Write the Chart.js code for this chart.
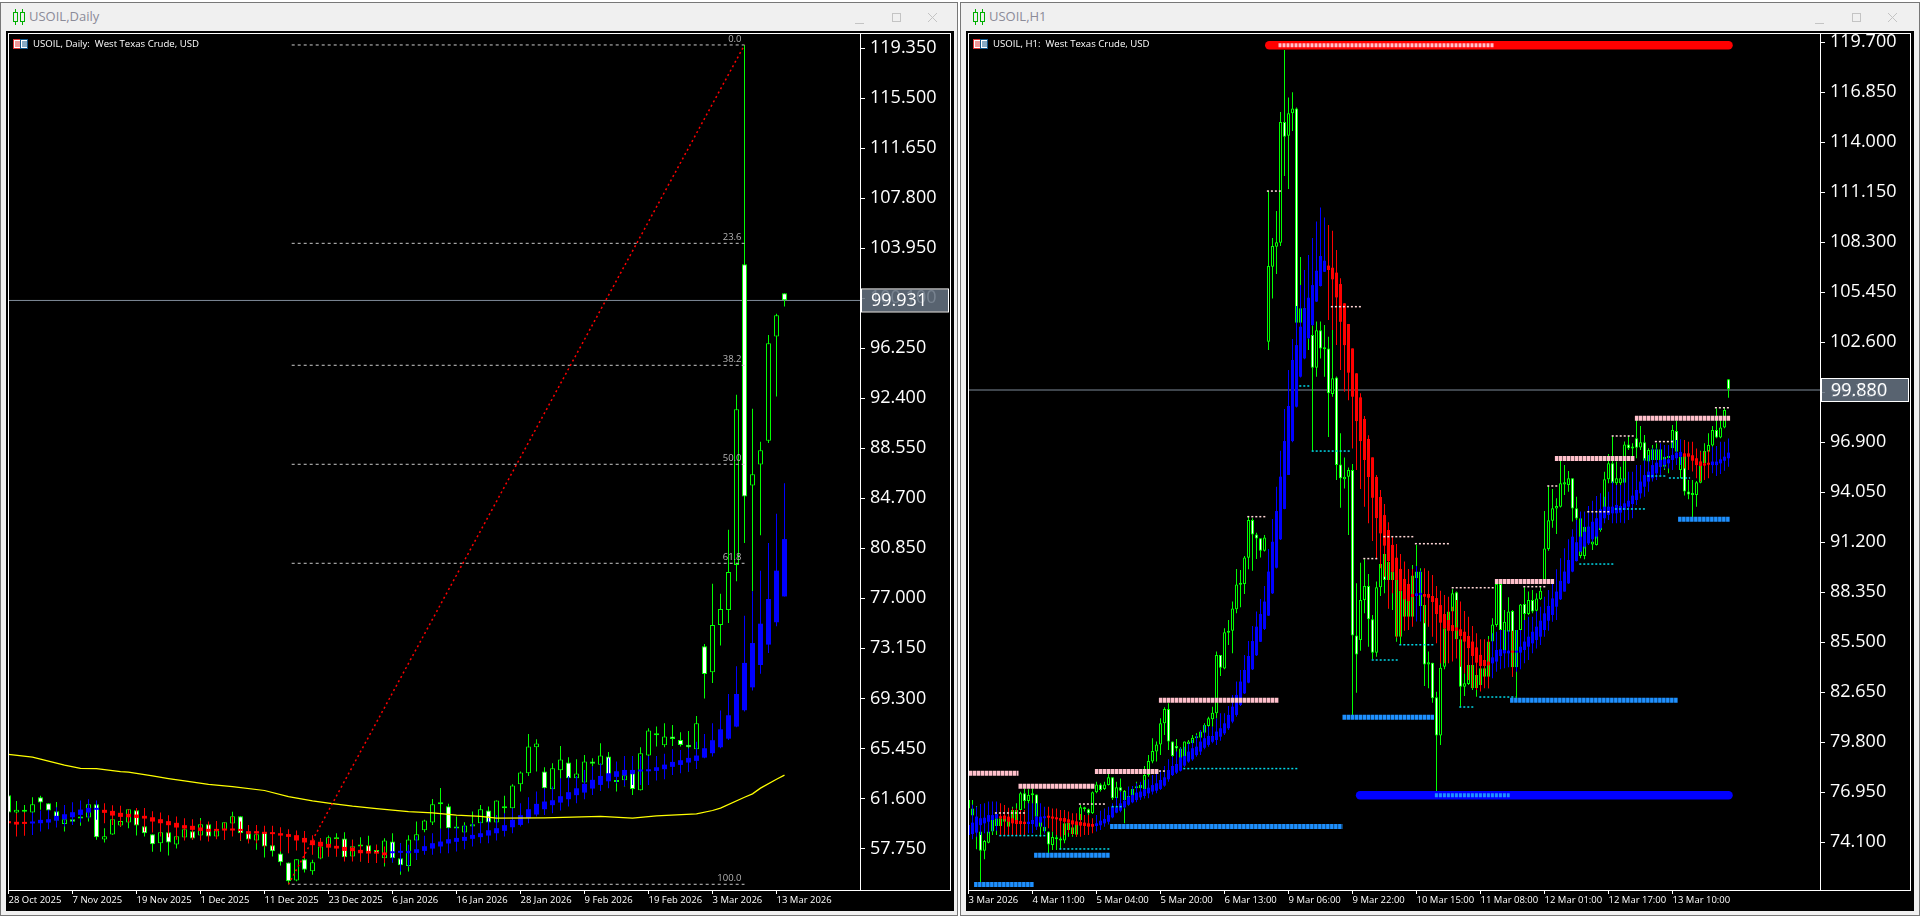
<!DOCTYPE html>
<html>
<head>
<meta charset="utf-8">
<title>USOIL</title>
<script src="https://cdn.jsdelivr.net/npm/chart.js@4"></script>
<style>
html, body { margin: 0; padding: 0; background: #fff; width: 1920px; height: 917px; overflow: hidden; }
.win { position: absolute; top: 2px; height: 914px; background: #f0f0f0; box-shadow: inset 0 0 0 1px #777; }
.pane { position: absolute; left: 6px; top: 29px; width: 948px; height: 880px; background: #000; }
.pane canvas { position: absolute; left: 0; top: 0; }
.frame { position: absolute; left: 2px; top: 2px; width: 943px; height: 858px; box-sizing: border-box; border: 1px solid #fff; pointer-events: none; }
.title { position: absolute; left: 29px; top: 5px; font: 13px "Open Sans", sans-serif; color: #8b8b98; }
.icon { position: absolute; left: 12px; top: 7px; }
.btns { position: absolute; top: 9px; left: 855px; }
.sym { position: absolute; left: 7px; top: 8px; width: 15px; height: 10px; }
.head { position: absolute; left: 27px; top: 6px; font: 9.6px "Open Sans", sans-serif; color: #fff; white-space: pre; }
</style>
</head>
<body>
<div class="win" style="left:0;width:958px">
  <svg class="icon" width="14" height="16"><path d="M3.5 0v3M3.5 13v3M10.5 0v3M10.5 13v3" stroke="#00b000"/><rect x="1.5" y="3.5" width="4" height="9" fill="none" stroke="#00b000"/><rect x="8.5" y="3.5" width="4" height="9" fill="none" stroke="#00b000"/></svg>
  <div class="title">USOIL,Daily</div>
  <svg class="btns" width="90" height="14"><path d="M0 12.5h9" stroke="#c4c4c4"/><rect x="37.5" y="2.5" width="8" height="8" fill="none" stroke="#c4c4c4"/><path d="M73 2l9 9M82 2l-9 9" stroke="#c4c4c4"/></svg>
  <div class="pane"><canvas id="dailyChart" width="948" height="880"></canvas><div class="frame"></div>
    <svg class="sym"><rect x=".5" y=".5" width="7" height="9" fill="#fff" stroke="#d33"/><rect x="7.5" y=".5" width="7" height="9" fill="#fff" stroke="#158"/><path d="M2 3h5M2 5h5M2 7h5" stroke="#d33"/><path d="M9 3h5M9 5h5M9 7h5" stroke="#158"/></svg>
    <div class="head">USOIL, Daily:  West Texas Crude, USD</div>
  </div>
</div>
<div class="win" style="left:960px;width:960px">
  <svg class="icon" width="14" height="16"><path d="M3.5 0v3M3.5 13v3M10.5 0v3M10.5 13v3" stroke="#00b000"/><rect x="1.5" y="3.5" width="4" height="9" fill="none" stroke="#00b000"/><rect x="8.5" y="3.5" width="4" height="9" fill="none" stroke="#00b000"/></svg>
  <div class="title">USOIL,H1</div>
  <svg class="btns" width="90" height="14"><path d="M0 12.5h9" stroke="#c4c4c4"/><rect x="37.5" y="2.5" width="8" height="8" fill="none" stroke="#c4c4c4"/><path d="M73 2l9 9M82 2l-9 9" stroke="#c4c4c4"/></svg>
  <div class="pane"><canvas id="hourlyChart" width="948" height="880"></canvas><div class="frame"></div>
    <svg class="sym"><rect x=".5" y=".5" width="7" height="9" fill="#fff" stroke="#d33"/><rect x="7.5" y=".5" width="7" height="9" fill="#fff" stroke="#158"/><path d="M2 3h5M2 5h5M2 7h5" stroke="#d33"/><path d="M9 3h5M9 5h5M9 7h5" stroke="#158"/></svg>
    <div class="head">USOIL, H1:  West Texas Crude, USD</div>
  </div>
</div>
<script>
// daily candles
var dailyOpen = [61.85,60.52,60.57,60.52,61.69,61.23,60.62,59.64,60.0,60.05,
  60.13,61.16,58.44,58.82,59.51,59.74,60.69,59.46,58.85,58.15,
  59.0,58.05,58.59,59.08,58.74,59.62,58.67,59.15,59.67,60.23,
  58.92,58.36,59.0,58.0,57.36,56.67,55.28,56.92,56.0,56.97,
  57.82,58.46,58.51,57.13,57.9,58.0,57.62,57.0,58.28,57.0,
  56.39,58.36,59.15,59.74,61.16,61.0,59.28,58.97,59.44,59.69,
  60.67,59.74,60.85,60.85,62.69,63.54,65.54,63.67,62.31,63.77,
  64.36,63.15,62.82,64.44,64.2,64.82,63.0,63.0,63.54,62.23,
  64.9,66.46,65.69,66.36,66.1,65.74,65.38,73.31,71.31,74.95,
  76.1,79.57,102.72,85.69,87.31,89.13,97.15,100.49];
var dailyHigh = [61.85,61.41,61.10,61.69,61.80,61.23,61.33,60.41,60.21,60.59,
  61.16,61.16,59.31,60.0,60.33,60.77,60.77,59.56,58.85,59.0,
  59.0,59.31,59.56,59.31,60.10,59.62,59.31,59.77,60.57,60.23,
  59.05,59.05,59.0,58.15,57.85,56.67,56.92,57.44,56.87,58.54,
  58.74,58.92,59.0,58.41,58.62,58.72,58.03,58.54,58.92,58.15,
  58.77,59.82,59.95,61.56,62.41,61.18,60.21,59.77,60.59,61.1,
  60.98,61.44,61.80,62.69,63.67,66.56,66.15,64.0,64.31,65.64,
  64.77,64.62,64.95,64.69,65.85,65.18,63.23,63.79,63.79,65.54,
  67.0,67.13,67.39,67.26,66.69,66.79,67.95,73.49,78.13,77.36,
  82.28,92.67,119.6,91.59,89.05,97.28,98.9,100.49];
var dailyLow = [60.46,59.69,59.69,59.69,60.72,60.59,59.44,59.05,59.69,59.49,
  59.82,58.41,58.21,58.80,59.39,59.31,58.74,58.67,57.49,57.49,
  57.21,57.74,58.41,58.41,58.54,58.54,58.54,58.41,59.18,58.33,
  58.15,57.64,57.05,57.13,56.44,54.97,55.23,55.90,55.72,56.92,
  57.13,57.13,56.82,57.0,56.74,56.74,56.62,56.36,56.67,55.72,
  55.97,56.87,59.0,59.56,59.26,59.23,59.0,58.41,58.92,59.56,
  59.69,59.69,59.82,60.08,62.13,63.33,63.67,62.26,62.13,62.9,
  63.08,62.9,62.77,64.05,64.0,62.9,62.13,62.51,61.87,62.21,
  64.82,65.59,65.54,65.64,65.59,63.67,65.33,69.3,70.49,73.38,
  75.1,78.31,81.26,77.54,81.85,88.95,92.54,99.46];
var dailyClose = [60.52,60.72,60.72,61.16,61.28,60.67,59.9,60.0,59.8,60.21,
  61.16,58.62,58.69,60.0,59.87,60.77,59.51,58.92,58.08,59.0,
  58.21,58.69,59.23,58.51,59.62,58.67,59.13,59.77,60.23,58.92,
  58.44,58.85,57.9,57.54,56.69,55.23,56.92,56.10,56.69,57.9,
  58.62,58.56,57.08,57.92,58.05,57.44,57.36,58.36,57.0,56.46,
  58.44,58.85,59.9,61.16,61.21,59.31,59.33,59.51,59.62,60.77,
  59.74,61.44,60.92,62.59,63.59,65.59,65.82,62.38,63.92,64.59,
  63.15,63.51,64.44,64.26,64.9,62.97,62.87,63.38,62.33,65.08,
  66.82,66.54,66.36,66.18,65.72,65.54,67.39,71.18,74.95,76.18,
  79.03,91.56,84.85,86.56,88.41,96.64,98.8,99.95];

// daily smoothed candles (blue up, red down)
var dailySmoothOpen = [59.85,59.8,59.69,59.67,59.69,59.74,59.9,60.0,60.15,60.33,
  60.51,60.72,60.72,60.64,60.49,60.41,60.36,60.26,60.15,60.0,
  59.85,59.72,59.54,59.49,59.36,59.26,59.15,59.21,59.18,59.18,
  59.08,59.08,59.03,59.0,58.92,58.85,58.77,58.56,58.38,58.26,
  58.1,57.95,57.87,57.82,57.64,57.56,57.51,57.44,57.38,57.41,
  57.38,57.41,57.56,57.74,57.9,58.13,58.26,58.33,58.49,58.62,
  58.74,58.92,59.1,59.38,59.56,60.08,60.36,60.77,61.08,61.28,
  61.54,61.85,62.05,62.36,62.64,62.92,63.26,63.38,63.49,63.67,
  63.69,63.72,63.85,64.03,64.18,64.36,64.49,64.74,65.08,65.54,
  66.2,67.13,68.39,70.15,71.87,73.44,75.16,77.15];
var dailySmoothHigh = [60.46,60.46,60.51,60.51,60.67,60.72,60.92,61.1,61.31,61.44,
  61.54,61.44,61.23,61.08,61.03,60.77,60.87,60.87,60.62,60.51,
  60.31,60.21,60.08,60.0,59.9,59.82,59.87,59.74,60.21,59.82,
  59.56,59.56,59.49,59.49,59.38,59.23,59.13,59.1,58.77,58.54,
  58.54,58.54,58.41,58.41,58.03,58.03,58.03,57.9,58.15,58.15,
  58.03,58.67,58.72,58.92,59.26,59.31,59.44,59.56,59.69,59.82,
  60.21,60.33,60.46,60.85,61.23,61.69,62.13,62.38,62.51,63.15,
  63.33,63.33,63.79,64.05,64.31,64.69,64.44,64.87,64.87,64.87,
  64.87,64.87,65.03,65.38,65.33,65.46,65.97,66.56,67.39,68.36,
  69.64,71.77,75.67,77.54,79.13,81.26,83.51,85.87];
var dailySmoothLow = [59.05,58.67,58.72,58.79,59.05,59.23,59.36,59.44,59.56,59.74,
  60.08,59.95,59.69,59.56,59.44,59.74,59.56,59.05,58.97,58.67,
  58.62,58.41,58.36,58.41,58.36,58.28,58.46,58.41,58.67,58.36,
  58.15,58.15,57.85,57.64,57.51,57.38,57.59,57.0,57.26,57.0,
  57.13,57.13,56.74,56.74,56.74,56.62,56.62,56.62,56.67,55.97,
  56.36,56.87,57.26,57.26,57.38,57.38,57.51,57.69,57.9,58.15,
  58.15,58.36,58.67,58.92,59.44,59.69,60.21,60.33,60.46,60.67,
  60.98,61.23,61.54,61.87,62.18,62.38,62.77,62.56,62.64,62.64,
  62.64,62.97,63.08,63.41,63.54,63.67,63.87,64.69,64.82,65.46,
  66.1,67.08,68.3,69.9,71.2,72.8,74.85,77.15];
var dailySmoothClose = [59.69,59.59,59.64,59.72,59.95,60.0,60.26,60.38,60.54,60.74,
  60.87,60.77,60.49,60.28,60.18,60.15,60.1,60.05,59.82,59.69,
  59.54,59.36,59.28,59.18,59.1,59.03,59.1,59.13,59.13,59.1,
  58.87,58.9,58.87,58.85,58.74,58.64,58.36,58.21,58.0,57.9,
  57.82,57.74,57.56,57.54,57.38,57.36,57.36,57.23,57.44,57.46,
  57.56,57.69,57.92,58.15,58.28,58.46,58.56,58.64,58.79,58.92,
  59.15,59.31,59.54,59.95,60.31,60.77,61.18,61.36,61.46,61.77,
  62.08,62.38,62.72,63.03,63.33,63.54,63.69,63.79,63.79,63.74,
  63.79,64.0,64.2,64.41,64.54,64.72,64.9,65.46,66.08,66.92,
  68.0,69.64,72.03,73.56,75.05,76.95,79.13,81.56];

// yellow moving average, read at these bars
var dailyMaBars = [0,3,4,7,9,11,14,15,18,20,22,25,28,32,35,38,40,43,46,50,53,56,59,61,67,74,78,81,86,88,89,92,93,94,96,97];
var dailyMaValues = [64.99,64.77,64.62,64.16,63.92,63.90,63.67,63.62,63.33,63.13,62.95,62.69,62.51,62.21,61.74,61.41,61.23,61.0,60.82,60.59,60.49,60.31,60.21,60.08,60.10,60.21,60.08,60.26,60.41,60.67,60.85,61.69,61.95,62.39,63.08,63.39];

// fibonacci tool
var fibLabels = ['0.0','23.6','38.2','50.0','61.8','100.0'];
var fibPrices = [119.6,104.33,94.94,87.32,79.70,54.99];
var fibStartBar = 35.4;
var fibEndBar = 92;

var dailyTickBars = [0,8,16,24,32,40,48,56,64,72,80,88,96];
var dailyTickLabels = ['28 Oct 2025','7 Nov 2025','19 Nov 2025','1 Dec 2025','11 Dec 2025','23 Dec 2025','6 Jan 2026','16 Jan 2026','28 Jan 2026','9 Feb 2026','19 Feb 2026','3 Mar 2026','13 Mar 2026'];
var dailyPriceTicks = [119.35,115.5,111.65,107.8,103.95,100.1,96.25,92.4,88.55,84.7,80.85,77,73.15,69.3,65.45,61.6,57.75];
var dailyLast = 99.931;

// hourly candles
var hourlyOpen = [76.03,76.03,74.71,74.71,73.62,74.08,74.71,75.03,75.47,75.27,
  74.99,75.94,75.27,75.94,76.89,76.45,76.78,76.83,74.99,74.99,
  74.71,73.94,74.38,74.2,74.2,75.22,74.57,74.53,75.35,75.98,
  75.98,75.75,76.95,77.4,77.14,77.36,77.8,76.61,77.23,77.04,
  76.61,76.74,77.18,77.18,77.14,77.94,78.7,79.27,79.68,80.88,
  81.7,79.84,79.59,78.75,78.98,79.7,79.74,80.03,80.06,80.35,
  80.73,81.11,81.45,84.78,84.0,86.05,86.16,87.38,88.78,88.82,
  90.32,92.47,91.65,91.43,90.72,102.63,106.91,108.05,108.28,115.16,
  114.38,115.65,115.93,103.72,102.06,102.88,103.01,101.15,103.28,102.2,
  102.25,99.65,100.6,95.64,94.79,94.94,95.32,85.88,85.63,87.91,
  88.71,86.81,84.91,88.63,90.53,89.05,89.05,89.05,85.82,86.96,
  86.96,86.96,89.15,87.57,87.62,84.24,84.34,82.36,80.18,84.11,
  86.3,87.25,88.35,85.67,82.97,83.12,84.2,82.88,83.07,83.54,
  83.54,85.54,86.48,88.82,85.06,86.1,87.28,84.07,86.2,87.68,
  87.11,87.91,87.3,87.95,89.05,90.82,92.43,93.12,93.23,94.5,
  94.46,94.85,93.14,90.42,90.42,91.33,91.08,91.05,91.9,92.85,
  94.79,95.7,94.56,94.56,94.6,96.78,96.54,97.13,96.61,96.9,
  95.8,95.89,95.89,96.5,95.51,96.0,96.56,97.54,95.32,96.18,
  94.1,93.9,93.9,94.6,95.7,96.36,96.71,97.6,97.18,97.75,
  100.49];
var hourlyHigh = [77.08,76.51,76.17,74.76,74.23,76.13,76.03,75.85,75.75,76.03,
  76.03,76.13,76.32,76.98,77.18,77.12,77.18,76.83,75.56,75.27,
  74.71,74.71,74.8,74.57,75.37,75.37,75.27,75.37,76.22,76.13,
  76.03,76.99,77.55,77.46,77.55,78.03,77.8,77.55,77.74,77.08,
  77.27,77.27,77.55,77.46,78.45,79.08,80.03,79.84,81.17,81.79,
  82.02,79.84,79.99,79.51,79.84,79.93,80.22,80.31,80.5,80.88,
  81.26,81.83,84.97,84.78,86.3,86.77,87.82,89.68,89.62,90.42,
  92.66,92.57,91.75,91.43,91.62,111.24,108.54,110.08,115.73,119.26,
  116.56,116.85,115.99,107.46,105.01,104.25,103.78,103.78,103.78,103.58,
  102.92,103.3,100.65,97.41,96.04,95.47,95.66,88.86,90.04,90.23,
  89.39,87.06,88.96,90.29,90.85,90.09,89.9,89.05,89.53,89.3,
  89.15,89.9,91.05,89.72,87.62,84.97,84.34,82.68,84.68,86.39,
  87.4,88.52,88.39,85.67,83.73,84.2,84.2,83.63,84.02,84.11,
  85.86,86.87,88.96,88.86,87.34,88.06,87.34,86.2,87.68,88.63,
  88.39,88.48,88.29,88.63,92.98,94.41,94.24,93.71,95.85,95.6,
  95.26,94.85,93.8,92.57,92.13,92.28,92.76,92.76,93.04,95.22,
  96.23,97.26,95.8,95.51,96.94,97.26,96.84,98.17,97.83,97.31,
  96.56,96.74,96.84,96.56,96.46,96.46,97.89,98.13,96.36,96.18,
  94.75,94.75,94.69,96.42,96.84,97.41,97.83,98.83,98.17,98.87,
  100.49];
var hourlyLow = [75.56,74.99,73.70,71.70,73.13,74.04,74.52,74.52,74.46,74.52,
  74.52,74.99,75.08,75.85,76.03,76.13,75.56,74.9,74.42,74.61,
  73.47,73.66,73.66,73.7,74.04,74.42,74.42,74.42,75.27,75.85,
  75.56,75.71,76.89,76.99,77.08,77.33,76.51,76.17,76.03,75.18,
  76.19,76.51,76.85,76.7,77.08,77.84,78.6,78.7,79.07,80.22,
  79.36,78.89,78.98,78.32,78.41,78.98,79.27,79.55,79.74,79.74,
  80.22,80.69,81.16,83.58,83.96,85.34,84.87,87.15,87.49,88.25,
  89.66,89.58,90.25,90.34,90.67,102.16,105.09,106.49,108.09,112.08,
  111.34,114.64,103.68,102.16,101.78,102.16,96.4,100.64,101.68,100.64,
  97.2,99.5,94.75,93.17,94.27,91.62,81.3,82.63,85.02,87.15,
  85.25,84.53,84.68,88.14,88.3,87.43,87.34,85.53,85.35,86.7,
  86.5,86.77,88.57,87.53,83.01,82.88,82.06,76.9,79.65,83.96,
  86.2,87.15,85.63,81.83,82.44,83.06,82.78,82.4,82.97,83.45,
  82.88,85.44,86.39,85.06,84.97,86.0,83.54,82.3,86.1,86.77,
  87.06,87.15,87.25,87.91,89.05,90.72,92.03,91.67,93.19,93.89,
  94.08,92.38,92.38,90.29,90.23,91.14,90.76,91.01,91.8,92.57,
  94.56,94.37,94.37,94.37,94.46,96.46,95.99,95.99,96.46,95.8,
  95.7,95.23,95.7,95.41,95.32,95.13,96.46,95.6,94.85,93.86,
  93.65,92.6,93.23,94.56,95.6,96.27,96.65,97.13,97.13,97.7,
  99.44];
var hourlyClose = [76.51,75.62,75.56,73.62,74.17,74.71,75.41,75.47,75.03,75.56,
  75.56,75.27,75.94,76.89,76.45,76.8,76.85,75.56,75.27,74.71,
  73.98,74.4,74.27,74.27,75.18,74.8,74.95,75.27,76.09,76.02,
  75.75,76.95,77.4,77.08,77.4,77.8,76.61,77.23,77.04,76.51,
  76.74,77.14,77.27,77.36,77.94,78.73,79.3,79.68,80.88,81.7,
  79.84,79.02,79.44,79.44,79.84,79.84,80.06,80.1,80.41,80.79,
  81.17,81.49,84.78,84.05,86.07,86.14,87.43,88.8,88.86,90.34,
  92.47,91.65,91.41,90.72,91.48,106.95,108.09,108.3,115.16,114.32,
  115.65,115.93,103.72,104.54,104.54,103.11,101.15,103.28,102.25,102.29,
  99.69,100.55,95.6,94.85,94.94,95.32,85.88,84.81,87.91,88.71,
  86.81,84.91,88.63,89.96,89.05,90.09,89.53,85.82,88.44,88.48,
  88.82,89.3,89.53,89.53,84.24,84.36,82.31,80.18,84.05,86.3,
  87.25,88.29,85.67,82.97,83.16,84.2,82.88,83.63,84.02,84.02,
  85.54,86.52,88.82,86.2,86.67,87.25,84.07,86.2,87.66,87.11,
  87.91,87.25,88.0,88.44,90.85,92.45,93.14,93.27,94.56,94.62,
  94.85,93.12,92.55,92.57,92.09,92.09,91.25,91.99,92.85,94.79,
  95.7,94.56,94.85,94.85,96.78,96.56,96.61,96.59,96.9,95.85,
  96.46,96.5,96.5,95.51,96.08,96.08,97.6,96.36,96.08,94.09,
  93.93,93.95,94.62,95.8,96.4,96.74,97.6,97.18,97.75,98.74,
  99.94];

// hourly smoothed candles
var hourlySmoothOpen = [74.52,74.57,74.65,75.08,75.18,75.27,75.37,75.47,75.56,75.62,
  75.56,75.47,75.37,75.31,75.27,75.14,75.14,74.99,75.22,75.47,
  75.58,75.56,75.52,75.48,75.48,75.41,75.35,75.29,75.26,75.22,
  75.18,75.14,75.03,75.07,75.18,75.27,75.52,75.79,75.9,76.09,
  76.24,76.38,76.51,76.66,76.74,76.89,76.99,77.04,77.14,77.33,
  77.69,77.93,78.07,78.18,78.47,78.7,78.83,79.07,79.27,79.49,
  79.65,79.83,79.93,80.12,80.31,80.6,80.98,81.36,81.93,82.59,
  83.2,83.96,84.76,85.53,86.26,87.02,88.29,89.75,91.37,93.1,
  95.04,96.97,98.93,100.64,101.68,102.83,103.58,104.92,105.81,106.62,
  106.97,106.85,106.57,105.92,104.82,103.64,102.25,100.83,99.46,98.23,
  97.09,96.04,94.92,93.78,92.75,91.9,91.05,90.32,89.68,89.11,
  88.82,88.25,88.14,88.2,88.25,88.25,88.14,88.02,87.62,87.11,
  86.77,86.48,86.35,86.24,86.1,85.86,85.54,85.21,84.78,84.49,
  84.4,84.3,84.4,84.72,84.87,84.87,85.02,84.91,84.91,85.06,
  85.25,85.44,85.63,85.82,86.2,86.73,87.06,87.53,87.95,88.39,
  88.86,89.53,90.13,90.67,90.95,91.14,91.37,91.52,92.0,92.57,
  92.76,92.85,92.85,92.89,93.04,93.23,93.38,93.61,93.99,94.37,
  94.66,94.85,95.13,95.51,95.6,95.7,95.89,95.99,96.08,96.27,
  96.27,96.16,95.99,95.8,95.7,95.66,95.6,95.6,95.7,95.85,
  95.99];
var hourlySmoothHigh = [76.32,76.24,76.13,76.28,76.32,76.42,76.42,76.42,76.32,76.22,
  76.07,76.03,76.03,75.94,75.94,76.32,76.32,76.32,76.32,76.13,
  76.13,76.03,76.03,75.94,75.94,75.85,75.75,75.75,75.71,75.66,
  75.66,75.47,75.66,75.9,76.03,76.13,76.32,76.7,76.98,76.98,
  77.27,77.31,77.46,77.55,77.65,77.69,77.94,77.99,78.22,78.45,
  78.83,78.98,79.27,79.46,79.55,79.74,79.93,80.22,80.5,80.79,
  80.69,80.69,81.16,81.45,81.45,81.87,82.5,83.26,83.92,84.78,
  85.57,86.43,87.25,87.97,88.71,90.82,92.53,94.37,96.42,98.8,
  101.02,102.79,104.67,105.86,106.72,107.58,108.54,109.48,110.29,109.72,
  109.28,108.96,107.86,106.25,104.82,103.64,102.25,100.83,99.69,98.4,
  97.3,96.04,95.04,94.18,93.38,92.34,91.52,91.1,90.53,90.1,
  89.68,89.68,89.85,89.58,89.72,89.58,89.34,88.71,88.44,88.2,
  88.1,87.53,87.91,87.82,87.28,86.96,86.43,86.01,85.67,85.67,
  85.67,86.01,86.1,86.2,86.2,86.2,86.16,86.2,86.2,86.77,
  86.96,86.96,87.25,87.53,88.1,88.48,89.09,89.66,90.29,90.86,
  91.37,91.94,92.47,92.95,92.95,93.27,93.57,93.84,93.99,93.8,
  94.08,94.66,94.47,94.47,94.85,95.22,95.22,95.6,95.6,95.99,
  96.18,96.55,96.55,96.84,96.74,96.74,97.03,97.03,97.07,97.03,
  96.93,96.93,96.55,96.37,96.37,96.46,96.65,96.69,96.93,96.93,
  97.12];
var hourlySmoothLow = [74.23,74.27,74.42,74.52,74.61,74.61,74.71,74.76,74.52,74.52,
  74.52,74.52,74.52,74.52,74.52,74.61,74.61,74.8,74.99,74.61,
  74.9,74.71,74.52,74.42,74.52,74.65,74.52,74.42,74.42,74.52,
  74.52,74.61,74.71,74.8,74.99,75.12,75.47,75.75,75.81,76.03,
  76.19,76.32,76.38,76.51,76.59,76.61,76.83,76.89,77.08,77.27,
  77.55,77.88,77.99,78.13,78.41,78.64,78.75,78.98,79.08,79.4,
  79.55,79.74,79.65,79.89,80.22,80.5,80.88,81.26,81.87,82.55,
  83.16,83.92,84.72,85.52,86.2,87.0,88.25,89.71,91.33,93.08,
  95.04,96.9,98.88,100.6,101.64,102.8,103.55,104.9,105.78,106.6,
  103.87,103.3,102.44,101.02,99.78,99.3,96.55,95.32,94.24,93.23,
  92.28,91.27,90.23,89.72,89.24,87.43,88.29,85.76,85.82,86.16,
  86.2,86.39,86.68,86.68,86.58,86.39,85.82,85.44,84.3,84.3,
  84.3,84.4,84.58,84.11,83.73,83.35,82.88,82.78,82.69,82.88,
  82.88,83.45,83.82,83.96,84.02,84.07,83.54,83.82,83.96,84.3,
  84.49,84.87,85.15,85.34,85.82,86.16,86.67,86.77,87.91,88.39,
  88.82,89.49,90.1,90.63,90.85,91.05,91.23,91.42,91.9,92.28,
  92.47,92.28,92.28,92.32,92.28,92.47,92.57,93.33,93.7,93.8,
  94.08,94.66,94.75,95.03,95.41,95.41,95.32,95.6,95.6,95.41,
  95.32,95.23,94.85,94.66,94.75,94.85,95.13,94.98,95.09,95.28,
  95.51];
var hourlySmoothClose = [75.08,75.22,75.56,75.47,75.5,75.65,75.65,75.71,75.47,75.41,
  75.27,75.18,75.14,75.14,75.14,75.27,75.37,75.56,75.56,75.56,
  75.5,75.45,75.41,75.33,75.27,75.22,75.12,75.08,75.05,75.03,
  74.99,74.99,75.18,75.33,75.43,75.65,76.13,76.09,76.32,76.47,
  76.7,76.8,76.93,76.99,77.12,77.21,77.36,77.46,77.65,77.8,
  78.22,78.45,78.56,78.94,79.02,79.27,79.46,79.55,79.84,80.03,
  80.16,80.16,80.41,80.6,80.88,81.36,81.83,82.5,83.26,83.92,
  84.72,85.57,86.39,87.11,87.82,89.53,91.23,92.98,94.94,96.97,
  98.97,101.59,102.44,103.49,104.54,105.14,105.86,106.68,107.52,107.25,
  106.72,106.19,105.16,103.77,102.44,100.87,99.5,98.11,96.97,95.89,
  94.92,93.74,92.58,91.71,91.01,90.13,89.52,89.05,88.44,87.95,
  87.85,88.08,88.29,88.29,88.1,88.04,87.8,87.11,86.62,86.3,
  86.16,86.14,86.16,85.86,85.54,85.17,84.72,84.34,84.15,84.15,
  84.19,84.64,85.06,85.1,85.06,85.02,84.91,85.0,85.25,85.54,
  85.82,86.1,86.39,86.73,87.15,87.57,88.0,88.39,89.0,89.53,
  90.19,91.52,91.2,91.52,91.8,92.09,92.37,92.57,93.08,93.23,
  93.23,93.23,93.33,93.27,93.42,93.57,93.86,94.18,94.66,95.03,
  95.23,95.6,95.74,95.89,95.93,95.93,96.18,96.31,96.35,96.08,
  96.08,95.85,95.6,95.55,95.57,95.62,95.8,95.8,95.93,96.08,
  96.31];

// horizontal levels: [first bar, last bar, price]
var hourlyTopBand = [[75.2,190,119.53]];
var hourlyTopDots = [[77.5,131.4,119.53]];
var hourlyLowBand = [[97.9,190,76.78]];
var hourlyLowDots = [[116.6,135.3,76.78]];
var hourlySwingHighs = [[0,12.5,78.03],[12.5,31.6,77.29],[31.6,47.6,78.14],[47.6,77.5,82.19],[131.6,146.4,88.97],[146.6,166.5,95.98],[166.6,190.4,98.27]];
var hourlySwingLows = [[1.4,16.4,71.70],[16.4,35.4,73.36],[35.4,93.5,75.0],[93.5,116.4,81.22],[135.4,177.4,82.19],[177.4,190.4,92.51]];
var hourlyMinorHighs = [[6.6,14.3,75.77],[27.6,34.3,76.28],[47.6,49.3,78.16],[74.6,78.3,111.22],[90.6,98.3,104.63],[69.7,74.3,92.66],[98.7,102.3,90.27],[103.7,111.3,91.52],[111.6,120.4,91.12],[120.8,131.4,88.61],[138.7,144.4,88.67],[144.7,147.4,94.41],[160.8,166.5,97.26],[171.6,176.6,96.94],[154.7,160.4,92.94],[186.6,190.4,98.87]];
var hourlyMinorLows = [[7.7,19.4,74.48],[22.7,35.4,73.72],[53.7,82.3,78.3],[35.8,38.3,76.13],[107.7,116.2,85.36],[100.8,107.3,84.49],[85.8,95.4,96.4],[82.7,85.4,100.11],[122.7,126.4,81.81],[127.7,136.8,82.38],[152.7,161.2,89.96],[161.6,169.4,93.1],[169.7,174.4,94.98],[175.1,180.4,94.86]];

var hourlyTickBars = [0,16,32,48,64,80,96,112,128,144,160,176];
var hourlyTickLabels = ['3 Mar 2026','4 Mar 11:00','5 Mar 04:00','5 Mar 20:00','6 Mar 13:00','9 Mar 06:00','9 Mar 22:00','10 Mar 15:00','11 Mar 08:00','12 Mar 01:00','12 Mar 17:00','13 Mar 10:00'];
var hourlyPriceTicks = [119.7,116.85,114,111.15,108.3,105.45,102.6,99.75,96.9,94.05,91.2,88.35,85.5,82.65,79.8,76.95,74.1];
var hourlyLast = 99.88;

var GREEN = '#00ff00', BLUE = '#0000ff', RED = '#ff0000';

function wickSet(low, high, colors, order) {
  return {
    data: low.map(function (l, i) { return { x: i, y: [l, high[i]] }; }),
    backgroundColor: colors, barThickness: 1, order: order,
    grouped: false, inflateAmount: 0, minBarLength: 1
  };
}
function bodySet(open, close, fill, border, width, order) {
  return {
    data: open.map(function (o, i) { return { x: i, y: [o, close[i]] }; }),
    backgroundColor: fill, borderColor: border, borderWidth: border ? 1 : 0, borderSkipped: false,
    barThickness: width, order: order, grouped: false, inflateAmount: 0, minBarLength: 2
  };
}
function candles(o, h, l, c, so, sh, sl, sc, width) {
  var fill = o.map(function (v, i) { return c[i] >= v ? '#000' : '#fff'; });
  var smooth = so.map(function (v, i) { return sc[i] >= v ? BLUE : RED; });
  return [
    wickSet(l, h, GREEN, 60),
    bodySet(o, c, fill, GREEN, width, 50),
    wickSet(sl, sh, smooth, 40),
    bodySet(so, sc, smooth, null, width, 30)
  ];
}
function level(list, color, width, dash, order, cap) {
  return list.map(function (s) {
    return {
      type: 'line', order: order,
      data: [{ x: s[0], y: s[2] }, { x: s[1], y: s[2] }],
      borderColor: color, borderWidth: width, borderDash: dash, borderCapStyle: cap || 'butt',
      pointRadius: 0, tension: 0
    };
  });
}

var lastPricePlugin = {
  id: 'lastPrice',
  afterDraw: function (chart) {
    var o = chart.options.plugins.lastPrice, ctx = chart.ctx;
    var x = chart.scales.x.right, y = chart.scales.y.getPixelForValue(o.value);
    ctx.save();
    ctx.fillStyle = 'rgba(100,113,128,0.88)';
    ctx.fillRect(x + 1, y - 11, 87, 22);
    ctx.strokeStyle = '#fff';
    ctx.strokeRect(x + 1.5, y - 11.5, 87, 23);
    ctx.fillStyle = '#fff';
    ctx.font = '18px "Open Sans"';
    ctx.textBaseline = 'middle';
    ctx.fillText(o.value.toFixed(3), x + 11, y + 0.5);
    ctx.restore();
  }
};
var fibTextPlugin = {
  id: 'fibText',
  afterDatasetsDraw: function (chart) {
    var o = chart.options.plugins.fibText;
    if (!o.labels) return;
    var ctx = chart.ctx;
    ctx.save();
    ctx.fillStyle = '#b4b4b4';
    ctx.font = '9.5px "Open Sans"';
    ctx.textAlign = 'right';
    o.labels.forEach(function (t, i) {
      ctx.fillText(t, chart.scales.x.getPixelForValue(o.bar) - 3, chart.scales.y.getPixelForValue(o.prices[i]) - 3);
    });
    ctx.restore();
  }
};

function makeChart(id, datasets, cfg) {
  return new Chart(document.getElementById(id).getContext('2d'), {
    type: 'bar',
    data: { datasets: datasets },
    plugins: [lastPricePlugin, fibTextPlugin],
    options: {
      responsive: false, animation: false, devicePixelRatio: 1,
      layout: { padding: { left: 2, top: 2, right: 0, bottom: 0 } },
      plugins: {
        legend: { display: false }, tooltip: { enabled: false }, title: { display: false },
        lastPrice: { value: cfg.last }, fibText: cfg.fib || {}
      },
      scales: {
        x: {
          type: 'linear', offset: false, min: cfg.xMin, max: cfg.xMax,
          grid: { drawOnChartArea: false, offset: false, color: '#fff', tickColor: '#fff', tickLength: 4 },
          border: { color: '#fff' },
          afterBuildTicks: function (s) { s.ticks = cfg.tickBars.map(function (v) { return { value: v }; }); },
          afterFit: function (s) { s.height = 21; s.paddingLeft = 0; s.paddingRight = 0; },
          ticks: {
            autoSkip: false, maxRotation: 0, align: 'start', color: '#fff', padding: 1,
            font: { family: 'Open Sans', size: 9.5 },
            callback: function (v) { return cfg.tickLabels[cfg.tickBars.indexOf(v)]; }
          }
        },
        y: {
          position: 'right', min: cfg.yMin, max: cfg.yMax,
          grid: { drawOnChartArea: false, color: '#fff', tickColor: '#fff', tickLength: 5 },
          border: { color: '#fff' },
          afterBuildTicks: function (s) { s.ticks = cfg.priceTicks.map(function (v) { return { value: v }; }); },
          afterFit: function (s) { s.width = 94; s.paddingTop = 0; s.paddingBottom = 0; },
          ticks: {
            autoSkip: false, color: '#fff', padding: 5,
            font: { family: 'Open Sans', size: 18 },
            callback: function (v) { return v.toFixed(3); }
          }
        }
      }
    }
  });
}

// left window
var dailySets = candles(dailyOpen, dailyHigh, dailyLow, dailyClose, dailySmoothOpen, dailySmoothHigh, dailySmoothLow, dailySmoothClose, 5);
dailySets.push({
  type: 'line', order: 20, borderColor: '#ffff00', borderWidth: 1.25, pointRadius: 0, tension: 0,
  data: dailyMaBars.map(function (b, i) { return { x: b, y: dailyMaValues[i] }; })
});
dailySets.push({
  type: 'line', order: 90, borderColor: '#7f8b99', borderWidth: 1, pointRadius: 0,
  data: [{ x: -0.0625, y: dailyLast }, { x: 106.4375, y: dailyLast }]
});
fibPrices.forEach(function (p) {
  dailySets.push({
    type: 'line', order: 10, borderColor: '#c8c8c8', borderWidth: 1, borderDash: [3, 3], pointRadius: 0,
    data: [{ x: fibStartBar, y: p }, { x: fibEndBar, y: p }]
  });
});
dailySets.push({
  type: 'line', order: 5, borderColor: '#ff0000', borderWidth: 1.5, borderDash: [2, 3], pointRadius: 0,
  data: [{ x: 35, y: fibPrices[5] }, { x: fibEndBar, y: fibPrices[0] }]
});
makeChart('dailyChart', dailySets, {
  last: dailyLast, xMin: -0.0625, xMax: 106.4375, yMin: 54.55, yMax: 120.52,
  tickBars: dailyTickBars, tickLabels: dailyTickLabels, priceTicks: dailyPriceTicks,
  fib: { labels: fibLabels, prices: fibPrices, bar: fibEndBar }
});

// right window
var hourlySets = candles(hourlyOpen, hourlyHigh, hourlyLow, hourlyClose, hourlySmoothOpen, hourlySmoothHigh, hourlySmoothLow, hourlySmoothClose, 3);
hourlySets.push({
  type: 'line', order: 90, borderColor: '#7f8b99', borderWidth: 1, pointRadius: 0,
  data: [{ x: -0.125, y: hourlyLast }, { x: 212.875, y: hourlyLast }]
});
hourlySets = hourlySets
  .concat(level(hourlyTopBand, RED, 8.5, [], 8, 'round'))
  .concat(level(hourlyTopDots, '#ffc0cb', 4, [3, 1], 7))
  .concat(level(hourlyLowBand, BLUE, 8.5, [], 8, 'round'))
  .concat(level(hourlyLowDots, '#1e90ff', 4, [3, 1], 7))
  .concat(level(hourlySwingHighs, '#ffc0cb', 5, [3.5, 0.5], 6))
  .concat(level(hourlySwingLows, '#1e90ff', 5, [3.5, 0.5], 6))
  .concat(level(hourlyMinorHighs, '#ffd8d8', 1.5, [2, 2], 6))
  .concat(level(hourlyMinorLows, '#00d8e8', 1.5, [2, 2], 6));
makeChart('hourlyChart', hourlySets, {
  last: hourlyLast, xMin: -0.125, xMax: 212.875, yMin: 71.38, yMax: 120.23,
  tickBars: hourlyTickBars, tickLabels: hourlyTickLabels, priceTicks: hourlyPriceTicks
});
</script>
</body>
</html>
